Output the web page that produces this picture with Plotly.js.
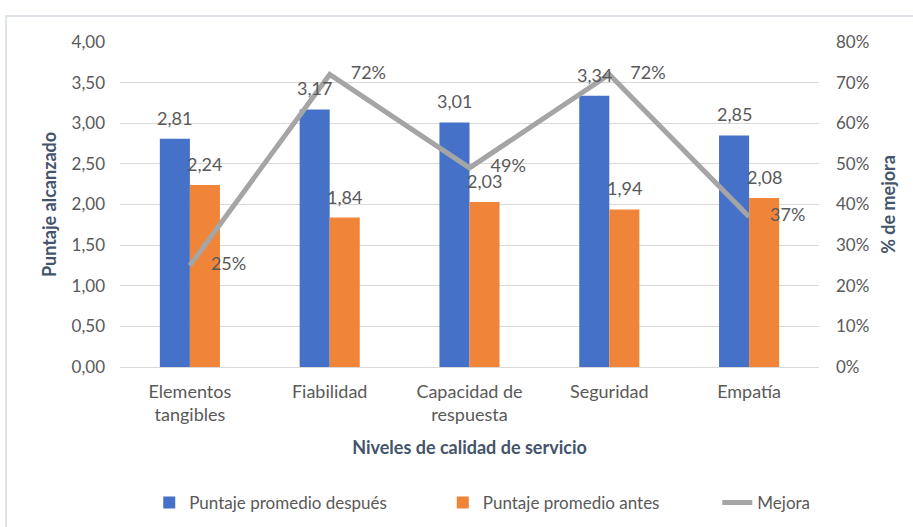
<!DOCTYPE html>
<html>
<head>
<meta charset="utf-8">
<script src="https://cdn.plot.ly/plotly-3.0.1.min.js"></script>
<style>
  html, body { margin: 0; padding: 0; background: #fff; overflow: hidden; }
  #frame { position: absolute; left: 5px; top: 15px; width: 908px; height: 512px;
           border-left: 2px solid #dfe4ea; border-top: 2px solid #dfe4ea; }
  #chart { width: 906px; height: 510px; }
</style>
</head>
<body>
<div id="frame"><div id="chart"></div></div>
<script>
const categories = ["Elementos<br>tangibles", "Fiabilidad", "Capacidad de<br>respuesta", "Seguridad", "Empatía"];
const despues = [2.81, 3.17, 3.01, 3.34, 2.85];
const antes = [2.24, 1.84, 2.03, 1.94, 2.08];
const mejora = [0.25, 0.72, 0.49, 0.72, 0.37];

const FONT = "Lato, 'Open Sans', sans-serif";
const TICK = "#595959";
const TITLE = "#44546A";
const fmt = v => v.toFixed(2).replace(".", ",");

const traces = [
  {
    type: "bar", name: "Puntaje promedio después", x: categories, y: despues,
    marker: { color: "#4671C8" }, legend: "legend"
  },
  {
    type: "bar", name: "Puntaje promedio antes", x: categories, y: antes,
    marker: { color: "#F0853A" }, legend: "legend2"
  },
  {
    type: "scatter", mode: "lines+markers+text", name: "Mejora", x: categories, y: mejora,
    yaxis: "y2", legend: "legend3",
    line: { color: "#A5A5A5", width: 5 },
    marker: { size: 32, color: "rgba(0,0,0,0)" },
    text: mejora.map(v => Math.round(v * 100) + "%"),
    textposition: "middle right", cliponaxis: false,
    textfont: { family: FONT, size: 18, color: TICK }
  }
];

const annotations = [];
categories.forEach((c, i) => {
  annotations.push({ x: c, y: despues[i], xref: "x", yref: "y", text: fmt(despues[i]),
    showarrow: false, xshift: -15, yshift: 8, yanchor: "bottom",
    font: { family: FONT, size: 18, color: TICK } });
  annotations.push({ x: c, y: antes[i], xref: "x", yref: "y", text: fmt(antes[i]),
    showarrow: false, xshift: 15, yshift: 8, yanchor: "bottom",
    font: { family: FONT, size: 18, color: TICK } });
});

const legendBase = {
  orientation: "h", xref: "container", xanchor: "left",
  yref: "container", y: 0.047, yanchor: "middle",
  font: { family: FONT, size: 17, color: TICK }, itemwidth: 30
};

const layout = {
  width: 906, height: 510,
  margin: { l: 113, r: 94, t: 25, b: 160 },
  paper_bgcolor: "#fff", plot_bgcolor: "#fff",
  separators: ",.",
  font: { family: FONT, size: 17, color: TICK },
  barmode: "group", bargap: 0.57, bargroupgap: 0,
  showlegend: true,
  legend: Object.assign({}, legendBase, { x: 0.157 }),
  legend2: Object.assign({}, legendBase, { x: 0.481 }),
  legend3: Object.assign({}, legendBase, { x: 0.784 }),
  annotations: annotations,
  xaxis: {
    showgrid: false, showline: true, linecolor: "#D9D9D9", linewidth: 1,
    ticks: "", ticklabelstandoff: 8, tickfont: { family: FONT, size: 18, color: TICK },
    automargin: false,
    title: { text: "Niveles de calidad de servicio", standoff: 17,
             font: { family: FONT, size: 18, color: TITLE, weight: "bold" } }
  },
  yaxis: {
    range: [0, 4], dtick: 0.5, tickformat: ".2f",
    showgrid: true, gridcolor: "#D9D9D9", gridwidth: 1, zeroline: false,
    ticks: "", ticklabelstandoff: 14, automargin: false,
    tickfont: { family: FONT, size: 17, color: TICK },
    title: { text: "Puntaje alcanzado", standoff: 10,
             font: { family: FONT, size: 18, color: TITLE, weight: "bold" } }
  },
  yaxis2: {
    range: [0, 0.8], dtick: 0.1, tickformat: ".0%",
    overlaying: "y", side: "right", showgrid: false, zeroline: false,
    ticks: "", ticklabelstandoff: 16, automargin: false,
    tickfont: { family: FONT, size: 17, color: TICK },
    title: { text: "% de mejora", standoff: 14,
             font: { family: FONT, size: 18, color: TITLE, weight: "bold" } }
  }
};

Plotly.newPlot("chart", traces, layout, { displayModeBar: false, staticPlot: true });
</script>
</body>
</html>
